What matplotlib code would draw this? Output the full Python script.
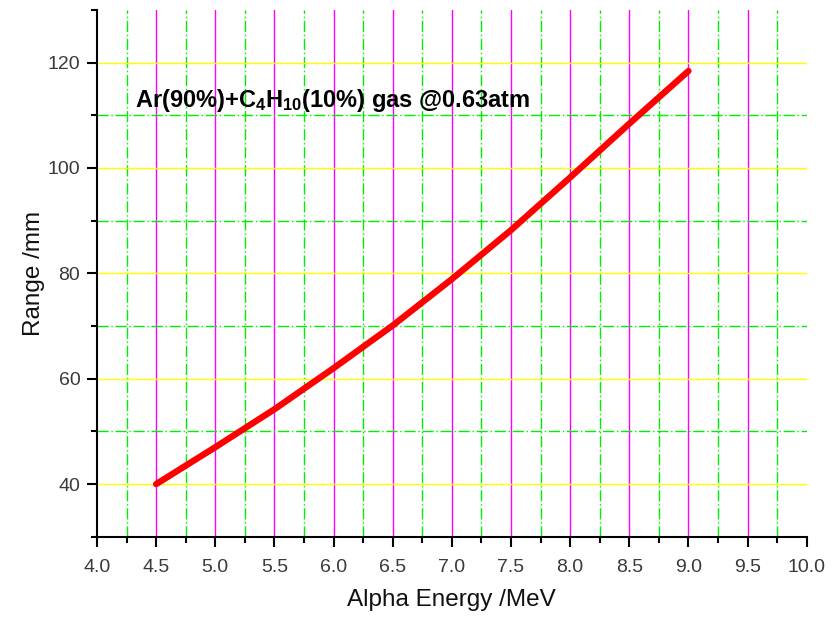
import numpy as np
import matplotlib
matplotlib.use('Agg')
from matplotlib import rcParams

rcParams['font.family'] = 'sans-serif'
rcParams['font.sans-serif'] = ['Liberation Sans']
rcParams['mathtext.fontset'] = 'custom'
rcParams['mathtext.rm'] = 'Liberation Sans'
rcParams['mathtext.default'] = 'regular'

import matplotlib.pyplot as plt
from matplotlib.ticker import MultipleLocator

# alpha energy (MeV) vs range (mm)
energy = [4.5, 5.0, 5.5, 6.0, 6.5, 7.0, 7.5, 8.0, 8.5, 9.0]
rangeMM = [40.0, 47.0, 54.2, 62.0, 70.1, 78.9, 88.2, 98.2, 108.4, 118.4]

xTicks = [4.0, 4.5, 5.0, 5.5, 6.0, 6.5, 7.0, 7.5, 8.0, 8.5, 9.0, 9.5, 10.0]
yTicks = [40, 60, 80, 100, 120]

titleString = r'Ar(90%)+C$_4$H$_{10}$(10%) gas @0.63atm'


def hideEdgeGrid(axis, lo, hi):
    # no grid line on the axis limits
    for tick in axis.get_major_ticks() + axis.get_minor_ticks():
        loc = tick.get_loc()
        if abs(loc - lo) < 1e-6 or abs(loc - hi) < 1e-6:
            tick.gridline.set_visible(False)


fig = plt.figure(figsize=(8.36, 6.17), dpi=100)
ax = fig.add_axes([0.116, 0.130, 0.849, 0.854])

ax.set_xlim(4.0, 10.0)
ax.set_ylim(30, 130)
ax.set_xticks(xTicks)
ax.set_yticks(yTicks)
ax.set_xticklabels(['%.1f' % v for v in xTicks])
ax.xaxis.set_minor_locator(MultipleLocator(0.25))
ax.yaxis.set_minor_locator(MultipleLocator(10))

# grids
ax.xaxis.grid(True, which='major', color='#ff00ff', lw=1.0, zorder=0)
ax.xaxis.grid(True, which='minor', color='#00ee00', lw=1.0, ls=(0, (8, 2, 1, 2)), zorder=0)
ax.yaxis.grid(True, which='major', color='#ffff00', lw=1.0, zorder=0)
ax.yaxis.grid(True, which='minor', color='#00ee00', lw=1.0, ls=(0, (8, 2, 1, 2)), zorder=0)
ax.set_axisbelow(True)

ax.plot(energy, rangeMM, color='#ff0000', lw=4.6, solid_capstyle='round', zorder=3)

for side in ['top', 'right']:
    ax.spines[side].set_visible(False)
for side in ['left', 'bottom']:
    ax.spines[side].set_linewidth(1.5)

ax.tick_params(which='major', direction='out', length=7, width=1.5, labelsize=14,
               labelcolor='#3a3a3a', pad=5)
ax.tick_params(axis='x', which='major', pad=9)
ax.tick_params(which='minor', direction='out', length=4.5, width=1.5)

ax.set_xlabel('Alpha Energy /MeV', fontsize=17.5, labelpad=9, color='#111111')
ax.set_ylabel('Range /mm', fontsize=17.5, labelpad=2, color='#111111')

ax.text(4.32, 112.8, titleString, fontsize=17, fontweight='bold', ha='left', va='center')

fig.canvas.draw()
hideEdgeGrid(ax.xaxis, 4.0, 10.0)
hideEdgeGrid(ax.yaxis, 30, 130)

fig.savefig('out.png', dpi=100)
